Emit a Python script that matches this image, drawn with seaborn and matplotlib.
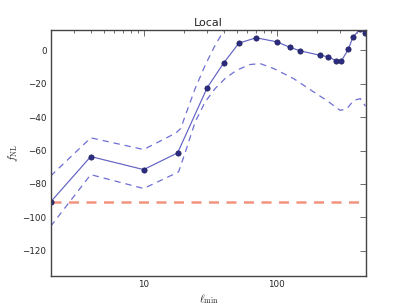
import numpy as np
import pandas as pd
import matplotlib
matplotlib.use("Agg")
import matplotlib.pyplot as plt
import seaborn as sns
from matplotlib.ticker import LogLocator, NullFormatter, FixedLocator

# ----------------------------
# data
# ----------------------------
ell = [2, 4, 10, 18, 30, 40, 52, 70, 100, 125, 150, 210, 245, 280, 305, 345, 375, 425, 465]
fnl = [-90.7, -63.6, -71.4, -61.4, -22.5, -7.6, 4.2, 7.4, 5.0, 1.8, -0.4, -3.0, -4.0,
       -6.4, -6.6, 0.4, 8.0, 12.5, 10.3]

lower_ell = [2, 4, 10, 18.3, 20.6, 24.4, 29, 34.5, 41, 50, 63, 75, 95, 134, 190, 240,
             300, 337, 380, 425, 465]
lower_fnl = [-105.3, -74.4, -82.7, -72.8, -60.8, -42.9, -30.9, -22.9, -16.9, -12.0, -8.6,
             -8.0, -11.0, -17.0, -25.0, -30.3, -36.0, -35.0, -30.0, -29.0, -33.5]

upper_ell = [2, 4, 10, 17.5, 19, 20.6, 24.4, 29, 34.5, 41, 50, 70, 100, 200, 465]
upper_fnl = [-75.2, -52.4, -59.4, -49.5, -46.8, -38.9, -22.9, -9.0, 3.0, 13.0, 20.0,
             25.0, 26.0, 24.0, 25.0]

fnl_ref = -90.7

sns.set_style("white")
plt.rcParams["mathtext.fontset"] = "cm"
plt.rcParams["axes.unicode_minus"] = True

fig = plt.figure(figsize=(4.07, 3.07), dpi=100)
ax = fig.add_axes([0.1245, 0.101, 0.775, 0.801])

band_color = "#6e6ed4"
sns.lineplot(x=lower_ell, y=lower_fnl, ax=ax, color=band_color, lw=0.9,
             linestyle=(0, (5, 4)), estimator=None, sort=False)
sns.lineplot(x=upper_ell, y=upper_fnl, ax=ax, color=band_color, lw=0.9,
             linestyle=(0, (5, 4)), estimator=None, sort=False)
sns.lineplot(x=ell, y=fnl, ax=ax, color="#6262c4", lw=0.85, marker="o", markersize=3.8,
             markerfacecolor="#2b2b80", markeredgecolor="#1e1e5a", markeredgewidth=0.5,
             estimator=None, sort=False)
ax.axhline(fnl_ref, color="#f2937e", lw=1.8, linestyle=(0, (4, 3)), zorder=1)

ax.set_xscale("log")
ax.set_xlim(2, 470)
ax.set_ylim(-135, 12)
ax.set_xticks([10, 100])
ax.set_xticklabels(["10", "100"])
ax.xaxis.set_minor_locator(LogLocator(base=10, subs=np.arange(2, 10)))
ax.xaxis.set_minor_formatter(NullFormatter())
ax.yaxis.set_major_locator(FixedLocator([0, -20, -40, -60, -80, -100, -120]))

ax.tick_params(which="both", direction="in", top=True, right=True, labelsize=6.3,
               color="#555555", width=0.6, pad=3)
ax.tick_params(which="major", length=4)
ax.tick_params(which="minor", length=2)
for sp in ax.spines.values():
    sp.set_color("#444444")
    sp.set_linewidth(1.0)

ax.set_title("Local", fontsize=8, pad=3)
ax.set_xlabel(r"$\ell_{\rm min}$", fontsize=8, labelpad=2)
ax.set_ylabel(r"$f_{\rm NL}$", fontsize=8, labelpad=2)

fig.savefig("out.png", dpi=100)
